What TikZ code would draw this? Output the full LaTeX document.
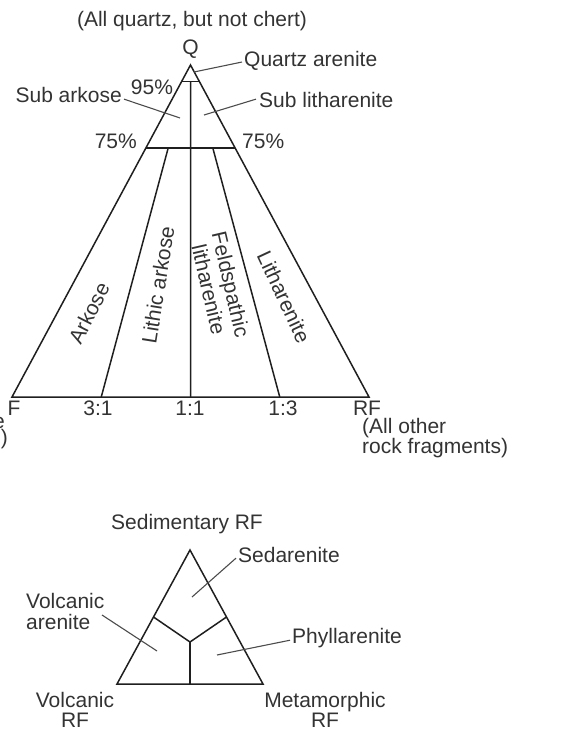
\documentclass[tikz,border=0pt]{standalone}
\usepackage{fontspec}
\setmainfont{Liberation Sans}
\usetikzlibrary{calc}
\begin{document}
\begin{tikzpicture}[x=1pt,y=-1pt,
  edge/.style={line width=1.5pt, draw=black!88},
  lead/.style={line width=1.1pt, draw=black!70},
  lbl/.style={text=black!80, font=\fontsize{21}{23}\selectfont, inner sep=0pt},
  two/.style={lbl, align=center},
]
\useasboundingbox (0,0) rectangle (568,731);
% ---------- main QFR triangle ----------
\coordinate (Q) at (190.5,65);
\coordinate (F) at (12,397);
\coordinate (R) at (369,397);
\coordinate (a95) at ($(Q)!0.05!(F)$);
\coordinate (b95) at ($(Q)!0.05!(R)$);
\coordinate (a75) at ($(Q)!0.25!(F)$);
\coordinate (b75) at ($(Q)!0.25!(R)$);
\coordinate (m31) at ($(F)!0.25!(R)$);
\coordinate (m11) at ($(F)!0.5!(R)$);
\coordinate (m13) at ($(F)!0.75!(R)$);
\coordinate (c95) at ($(a95)!0.5!(b95)$);
\coordinate (i31) at ($(a75)!0.25!(b75)$);
\coordinate (i13) at ($(a75)!0.75!(b75)$);
\draw[edge] (Q) -- (F) -- (R) -- cycle;
\draw[edge] (a95) -- (b95);
\draw[edge] (a75) -- (b75);
\draw[edge] (c95) -- (m11);
\draw[edge] (i31) -- (m31);
\draw[edge] (i13) -- (m13);

\node[lbl] (title) at (192,21) {(All quartz, but not chert)};
\node[lbl] (qlab) at (190.5,49) {Q};
\node[lbl, anchor=mid west] (qa) at (244,64) {Quartz arenite};
\coordinate (qaend) at (194,72);
\draw[lead] ($(qa.west)+(-2,1)$) -- (qaend);
\node[lbl] (p95) at (152,87) {95\%};
\node[lbl, anchor=mid east] (sa) at (122,100) {Sub arkose};
\coordinate (saend) at (180,118);
\draw[lead] ($(sa.east)+(2,4)$) -- (saend);
\node[lbl, anchor=mid west] (sl) at (259,105) {Sub litharenite};
\coordinate (slend) at (204,115);
\draw[lead] ($(sl.west)+(-3,-1)$) -- (slend);
\node[lbl, anchor=mid east] (p75l) at (137,146) {75\%};
\node[lbl, anchor=mid west] (p75r) at (242,146) {75\%};

\node[lbl, rotate=63] (ark) at (89,313) {Arkose};
\node[lbl, rotate=81] (lark) at (158,285) {Lithic arkose};
\node[two, rotate=-77, font=\fontsize{21}{22.5}\selectfont] (fl) at (220,287) {Feldspathic\\litharenite};
\node[lbl, rotate=-65] (lith) at (284,297) {Litharenite};

\node[lbl] (lF) at (14,408) {F};
\node[lbl] (l31) at (98,408) {3:1};
\node[lbl] (l11) at (190,408) {1:1};
\node[lbl] (l13) at (283,408) {1:3};
\node[lbl] (lR) at (367,408) {RF};
\node[lbl, align=left, anchor=north west, font=\fontsize{21}{16.5}\selectfont] (rfnote) at (362,418) {(All other\\rock fragments)};
\node[lbl, anchor=mid east] (fe1) at (5,426) {e};
\node[lbl, anchor=mid east] (fe2) at (8,442) {s)};

% ---------- rock fragment triangle ----------
\coordinate (S) at (190,550);
\coordinate (V) at (117,684);
\coordinate (M) at (263,684);
\coordinate (yl) at ($(S)!0.5!(V)$);
\coordinate (yr) at ($(S)!0.5!(M)$);
\coordinate (yb) at ($(V)!0.5!(M)$);
\coordinate (Y) at (190,642);
\draw[edge] (S) -- (V) -- (M) -- cycle;
\draw[edge] (yl) -- (Y) -- (yr);
\draw[edge] (Y) -- (yb);

\node[lbl] (sed) at (187,524) {Sedimentary RF};
\node[lbl, anchor=mid west] (sdar) at (238,560) {Sedarenite};
\coordinate (sdend) at (192,597);
\draw[lead] ($(sdar.west)+(-2,3)$) -- (sdend);
\node[lbl, align=left, anchor=west, font=\fontsize{21}{21}\selectfont] (var) at (26,611) {Volcanic\\arenite};
\coordinate (varend) at (157,651);
\coordinate (varstart) at (102,615);
\draw[lead] (varstart) -- (varend);
\node[lbl, anchor=mid west] (phy) at (292,641) {Phyllarenite};
\coordinate (phyend) at (217,655);
\draw[lead] ($(phy.west)+(-2,2)$) -- (phyend);
\node[two, font=\fontsize{21}{20}\selectfont, anchor=north] (vrf) at (75,692) {Volcanic\\RF};
\node[two, font=\fontsize{21}{20}\selectfont, anchor=north] (mrf) at (325,692) {Metamorphic\\RF};
\end{tikzpicture}
\end{document}
